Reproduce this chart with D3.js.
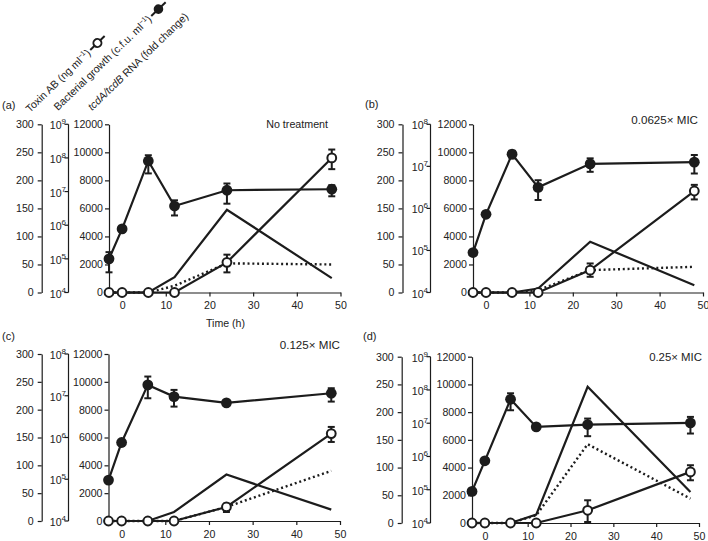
<!DOCTYPE html>
<html><head><meta charset="utf-8">
<script src="https://cdn.jsdelivr.net/npm/d3@7"></script>
<style>
body{margin:0;background:#fff;}
svg text{font-family:"Liberation Sans",Arial,Helvetica,sans-serif;fill:#222;}
</style></head>
<body><svg id="chart" width="708" height="541"></svg>
<script>
// ---- data ----
const time = [-3, 0, 6, 12, 24, 48];
const xTicks = [0, 10, 20, 30, 40, 50];
const toxinTicks = [0, 50, 100, 150, 200, 250, 300];
const rnaTicks = [0, 2000, 4000, 6000, 8000, 10000, 12000];
const panelLabels = ["(a)", "(b)", "(c)", "(d)"];
const panelNotes = ["No treatment", "0.0625\u00d7 MIC", "0.125\u00d7 MIC", "0.25\u00d7 MIC"];
const growthLogMax = [9, 8, 8, 9];

// bacterial growth (log10 c.f.u. per ml): mean, lower, upper
const growthA = [5.00, 5.89, 7.91, 6.57, 7.04, 7.07];
const growthLoA = [4.60, 5.89, 7.54, 6.29, 6.64, 6.86];
const growthHiA = [5.20, 5.89, 8.08, 6.74, 7.24, 7.19];
const growthB = [4.95, 5.86, 7.29, 6.50, 7.06, 7.10];
const growthLoB = [4.95, 5.86, 7.19, 6.20, 6.87, 6.83];
const growthHiB = [4.95, 5.86, 7.37, 6.67, 7.19, 7.27];
const growthC = [4.98, 5.88, 7.26, 6.98, 6.83, 7.06];
const growthLoC = [4.98, 5.88, 6.94, 6.74, 6.78, 6.86];
const growthHiC = [4.98, 5.88, 7.46, 7.14, 6.90, 7.18];
const growthD = [4.95, 5.87, 7.72, 6.89, 6.96, 7.01];
const growthLoD = [4.95, 5.87, 7.39, 6.89, 6.61, 6.69];
const growthHiD = [4.95, 5.87, 7.90, 6.89, 7.14, 7.19];

// toxin AB (ng per ml)
const toxinA = [0, 0, 0, 0, 53.8, 240];
const toxinLoA = [0, 0, 0, 0, 35.9, 220];
const toxinHiA = [0, 0, 0, 0, 67.5, 255];
const toxinB = [0, 0, 0, 0, 39.9, 181];
const toxinLoB = [0, 0, 0, 0, 28, 166];
const toxinHiB = [0, 0, 0, 0, 51.8, 192];
const toxinC = [0, 0, 0, 0, 25.2, 157];
const toxinLoC = [0, 0, 0, 0, 16.2, 142];
const toxinHiC = [0, 0, 0, 0, 31.2, 169];
const toxinD = [0, 0, 0, 0, 22.9, 92.2];
const toxinLoD = [0, 0, 0, 0, 1.8, 77.1];
const toxinHiD = [0, 0, 0, 0, 41, 104.2];

// tcdA (solid) and tcdB (dotted) RNA fold change
const tcdA_A = [0, 0, 0, 1100, 5905, 1028];
const tcdB_A = [0, 0, 0, 478, 2080, 2000];
const tcdA_B = [0, 0, 0, 286, 3619, 524];
const tcdB_B = [0, 0, 0, 167, 1595, 1833];
const tcdA_C = [0, 0, 0, 648, 3336, 816];
const tcdB_C = [0, 0, 0, 0, 1008, 3600];
const tcdA_D = [0, 0, 0, 602, 9831, 2241];
const tcdB_D = [0, 0, 0, 554, 5687, 1759];

const panelData = [
  {growth: growthA, gLo: growthLoA, gHi: growthHiA, toxin: toxinA, tLo: toxinLoA, tHi: toxinHiA, tcdA: tcdA_A, tcdB: tcdB_A},
  {growth: growthB, gLo: growthLoB, gHi: growthHiB, toxin: toxinB, tLo: toxinLoB, tHi: toxinHiB, tcdA: tcdA_B, tcdB: tcdB_B},
  {growth: growthC, gLo: growthLoC, gHi: growthHiC, toxin: toxinC, tLo: toxinLoC, tHi: toxinHiC, tcdA: tcdA_C, tcdB: tcdB_C},
  {growth: growthD, gLo: growthLoD, gHi: growthHiD, toxin: toxinD, tLo: toxinLoD, tHi: toxinHiD, tcdA: tcdA_D, tcdB: tcdB_D}
];

// ---- layout ----
const layout = [
  {outerX: 41.7, logX: 68.5, innerX: 109, x50: 340.5, yTop: 124.3, yBot: 292.5, lx: 2, ly: 109, nx: 328, ny: 128, nfs: 10.7},
  {outerX: 402.5, logX: 430.5, innerX: 473, x50: 703, yTop: 124.3, yBot: 292.5, lx: 365, ly: 108, nx: 698, ny: 124, nfs: 11.6},
  {outerX: 41.7, logX: 68.5, innerX: 108.5, x50: 340, yTop: 354, yBot: 521, lx: 2, ly: 340, nx: 340, ny: 349, nfs: 11.6},
  {outerX: 401.7, logX: 430.5, innerX: 472, x50: 699, yTop: 356.7, yBot: 523, lx: 363, ly: 340, nx: 702, ny: 360.5, nfs: 11.4}
];

const FS = 10.6;
const INK = "#1c1c1c";
const svg = d3.select("#chart");

function styleAxis(g) {
  g.selectAll("path,line").attr("stroke", INK).attr("stroke-width", 1.2);
  g.selectAll("text").attr("font-size", FS).attr("fill", "#222").attr("font-family", '"Liberation Sans",Arial,sans-serif');
}

panelData.forEach((d, i) => {
  const L = layout[i];
  const g = svg.append("g");
  const x = d3.scaleLinear().domain([-3, 50]).range([L.innerX, L.x50]);
  const yRna = d3.scaleLinear().domain([0, 12000]).range([L.yBot, L.yTop]);
  const yTox = d3.scaleLinear().domain([0, 300]).range([L.yBot, L.yTop]);
  const yLog = d3.scaleLog().domain([1e4, Math.pow(10, growthLogMax[i])]).range([L.yBot, L.yTop]);

  // outer toxin axis
  g.append("g").attr("transform", `translate(${L.outerX},0)`)
    .call(d3.axisLeft(yTox).tickValues(toxinTicks).tickSize(4).tickPadding(4).tickSizeOuter(0))
    .call(styleAxis);
  // log axis
  const lg = g.append("g").attr("transform", `translate(${L.logX},0)`);
  lg.append("line").attr("y1", L.yTop).attr("y2", L.yBot).attr("stroke", INK).attr("stroke-width", 1.2);
  d3.range(4, growthLogMax[i] + 1).forEach(e => {
    const yy = yLog(Math.pow(10, e));
    lg.append("line").attr("x1", -4).attr("x2", 0).attr("y1", yy).attr("y2", yy).attr("stroke", INK).attr("stroke-width", 1.2);
    const t = lg.append("text").attr("x", -2.5).attr("y", yy + 5).attr("text-anchor", "end").attr("font-size", FS);
    t.append("tspan").text("10");
    t.append("tspan").attr("dy", -5).attr("font-size", 8).text(e);
  });
  // inner RNA axis
  g.append("g").attr("transform", `translate(${L.innerX},0)`)
    .call(d3.axisLeft(yRna).tickValues(rnaTicks).tickSize(4).tickPadding(2).tickSizeOuter(0).tickFormat(d3.format("d")))
    .call(styleAxis);
  // x axis
  g.append("g").attr("transform", `translate(0,${L.yBot})`)
    .call(d3.axisBottom(x).tickValues(xTicks).tickSize(4).tickPadding(5).tickSizeOuter(0))
    .call(styleAxis);

  // labels
  g.append("text").attr("x", L.lx).attr("y", L.ly).attr("font-size", 11).text(panelLabels[i]);
  g.append("text").attr("x", L.nx).attr("y", L.ny).attr("text-anchor", "end").attr("font-size", L.nfs).text(panelNotes[i]);
  if (i === 0) {
    g.append("text").attr("x", 225.5).attr("y", 326.5).attr("text-anchor", "middle").attr("font-size", FS).text("Time (h)");
  }

  const idx = d3.range(time.length);
  const line = (yf, arr) => d3.line().x(k => x(time[k])).y(k => yf(arr[k]))(idx);

  g.append("path").attr("d", line(yRna, d.tcdA)).attr("fill", "none").attr("stroke", INK).attr("stroke-width", 2.2);
  g.append("path").attr("d", line(yRna, d.tcdB)).attr("fill", "none").attr("stroke", INK).attr("stroke-width", 2.4).attr("stroke-dasharray", "2,2.8");

  const ylog = v => yLog(Math.pow(10, v));
  g.append("path").attr("d", line(yTox, d.toxin)).attr("fill", "none").attr("stroke", INK).attr("stroke-width", 2.2);
  g.append("path").attr("d", line(ylog, d.growth)).attr("fill", "none").attr("stroke", INK).attr("stroke-width", 2.2);

  // error bars
  function errBars(yf, lo, hi) {
    idx.forEach(k => {
      const y1 = yf(lo[k]), y2 = yf(hi[k]);
      if (Math.abs(y1 - y2) < 0.5) return;
      const xx = x(time[k]);
      g.append("line").attr("x1", xx).attr("x2", xx).attr("y1", y1).attr("y2", y2).attr("stroke", INK).attr("stroke-width", 2);
      [y1, y2].forEach(yy => g.append("line").attr("x1", xx - 3.5).attr("x2", xx + 3.5).attr("y1", yy).attr("y2", yy).attr("stroke", INK).attr("stroke-width", 2));
    });
  }
  errBars(yTox, d.tLo, d.tHi);
  errBars(ylog, d.gLo, d.gHi);

  g.selectAll(null).data(idx).enter().append("circle")
    .attr("cx", k => x(time[k])).attr("cy", k => yTox(d.toxin[k])).attr("r", 4.4)
    .attr("fill", "#fff").attr("stroke", INK).attr("stroke-width", 2);
  g.selectAll(null).data(idx).enter().append("circle")
    .attr("cx", k => x(time[k])).attr("cy", k => ylog(d.growth[k])).attr("r", 5.4)
    .attr("fill", INK);
});

// ---- legend (rotated) ----
const legendItems = [
  {parts: [["Toxin AB (ng ml", ""], ["\u22121", "sup"], [")", ""]], x: 30, y: 113, marker: "open"},
  {parts: [["Bacterial growth (c.f.u. ml", ""], ["\u22121", "sup"], [")", ""]], x: 58, y: 111, marker: "filled"},
  {parts: [["tcdA/tcdB", "it"], [" RNA (fold change)", ""]], x: 92, y: 111, marker: null}
];
legendItems.forEach(it => {
  const lg = svg.append("g").attr("transform", `translate(${it.x},${it.y}) rotate(-44)`);
  const t = lg.append("text").attr("font-size", FS);
  let shifted = false;
  it.parts.forEach(p => {
    const ts = t.append("tspan").text(p[0]);
    if (p[1] === "sup") { ts.attr("dy", -4).attr("font-size", 7); shifted = true; }
    else if (shifted) { ts.attr("dy", 4); shifted = false; }
    if (p[1] === "it") ts.attr("font-style", "italic");
  });
  if (it.marker) {
    const w = t.node().getComputedTextLength();
    lg.append("line").attr("x1", w + 2).attr("x2", w + 22).attr("y1", -3.5).attr("y2", -3.5).attr("stroke", INK).attr("stroke-width", 2);
    lg.append("circle").attr("cx", w + 12).attr("cy", -3.5).attr("r", it.marker === "open" ? 4 : 4.8)
      .attr("fill", it.marker === "open" ? "#fff" : INK).attr("stroke", INK).attr("stroke-width", it.marker === "open" ? 2 : 0);
  }
});
</script></body></html>
